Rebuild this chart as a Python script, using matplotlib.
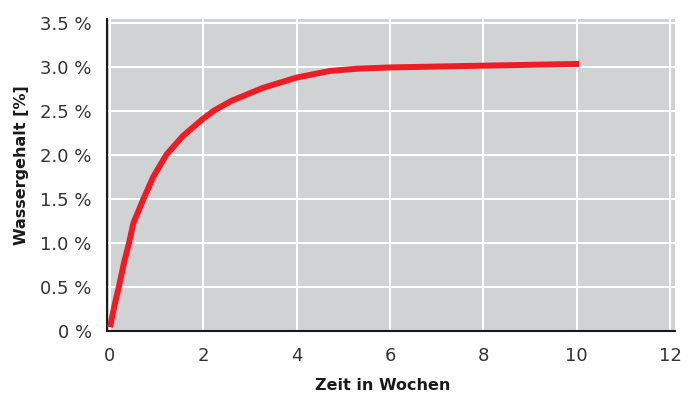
import matplotlib
matplotlib.use("Agg")
import matplotlib.pyplot as plt

weeks = [0.0, 0.09, 0.19, 0.30, 0.41, 0.50, 0.72, 0.93, 1.21, 1.56, 2.0, 2.23,
         2.6, 3.29, 4.0, 4.71, 5.29, 6.0, 8.0, 10.05]
water = [0.04, 0.27, 0.50, 0.77, 1.0, 1.22, 1.50, 1.75, 2.0, 2.21, 2.41, 2.50,
         2.61, 2.76, 2.875, 2.95, 2.975, 2.99, 3.01, 3.03]

xticks = [0, 2, 4, 6, 8, 10, 12]
yticks = [0, 0.5, 1.0, 1.5, 2.0, 2.5, 3.0, 3.5]
ylabels = ["0 %", "0.5 %", "1.0 %", "1.5 %", "2.0 %", "2.5 %", "3.0 %", "3.5 %"]

fig = plt.figure(figsize=(6.99, 4.03), dpi=100)
ax = fig.add_axes([107/699, 1-330.7/403, (675-107)/699, (330.7-19)/403])
ax.set_facecolor("#d1d2d4")

ax.plot(weeks, water, color="#ee1c25", lw=4.3, solid_capstyle="butt", solid_joinstyle="round", zorder=3)

ax.set_xlim(-0.064, 12.107)
ax.set_ylim(0, 3.54)
ax.set_xticks(xticks)
ax.set_yticks(yticks)
ax.set_yticklabels(ylabels)
ax.grid(True, color="white", lw=1.5)
ax.set_axisbelow(True)
ax.tick_params(length=0, labelsize=13, colors="#333333")
ax.tick_params(axis="y", pad=11)
ax.tick_params(axis="x", pad=12)
for s in ["top", "right"]:
    ax.spines[s].set_visible(False)
for s in ["left", "bottom"]:
    ax.spines[s].set_color("#1a1a1a")
    ax.spines[s].set_linewidth(1.5)

fig.text(22/699, 1-165/403, "Wassergehalt [%]", rotation=90, ha="center", va="center",
         fontsize=11.5, fontweight="bold", color="#1a1a1a")
fig.text(383/699, 1-386/403, "Zeit in Wochen", ha="center", va="center",
         fontsize=11.5, fontweight="bold", color="#1a1a1a")

fig.savefig("out.png", dpi=100)
